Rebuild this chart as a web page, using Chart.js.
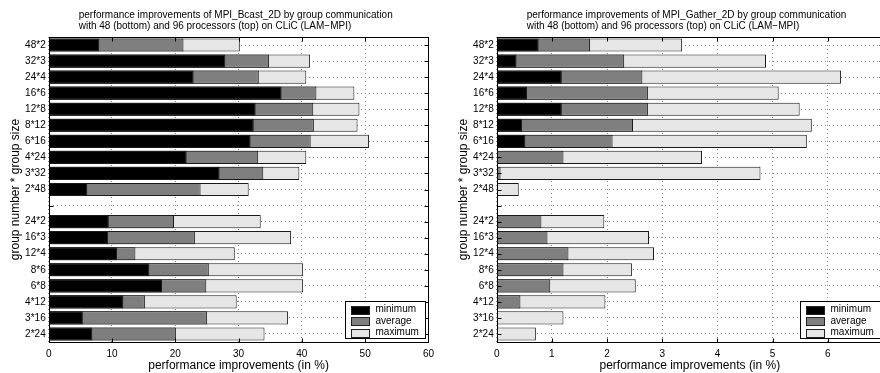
<!DOCTYPE html>
<html>
<head>
<meta charset="utf-8">
<script src="https://cdn.jsdelivr.net/npm/chart.js@4"></script>
<style>
  html, body { margin: 0; padding: 0; background: #fff; overflow: hidden; }
  #wrap { position: relative; width: 880px; height: 373px; overflow: hidden; }
  #bcast { position: absolute; left: 0; top: 0; }
  #gather { position: absolute; left: 440px; top: 0; }
</style>
</head>
<body>
<div id="wrap">
  <canvas id="bcast" width="440" height="373"></canvas>
  <canvas id="gather" width="460" height="373"></canvas>
</div>
<script>
// group number * group size, top block = 96 processors, bottom block = 48
const groupLabels = ['48*2', '32*3', '24*4', '16*6', '12*8', '8*12', '6*16', '4*24', '3*32', '2*48',
                     '',
                     '24*2', '16*3', '12*4', '8*6', '6*8', '4*12', '3*16', '2*24'];

// MPI_Bcast_2D (in %)
const bcastMin = [8.0, 27.9, 22.9, 36.8, 32.7, 32.4, 31.9, 21.8, 27.0, 6.1,
                  null, 9.5, 9.4, 10.8, 15.9, 17.9, 11.8, 5.4, 6.9];
const bcastAvg = [21.3, 34.8, 33.2, 42.3, 41.8, 41.9, 41.4, 33.1, 33.9, 24.0,
                  null, 19.8, 23.1, 13.7, 25.3, 24.9, 15.2, 25.0, 20.1];
const bcastMax = [30.2, 41.3, 40.7, 48.3, 49.1, 48.8, 50.6, 40.7, 39.6, 31.6,
                  null, 33.5, 38.3, 29.4, 40.2, 40.2, 29.7, 37.8, 34.1];

// MPI_Gather_2D (in %)
const gatherMin = [0.76, 0.36, 1.18, 0.55, 1.18, 0.46, 0.52, 0, 0, 0,
                   null, 0, 0, 0, 0, 0, 0, 0, 0];
const gatherAvg = [1.69, 2.31, 2.64, 2.74, 2.74, 2.47, 2.10, 1.21, 0.07, 0,
                   null, 0.81, 0.92, 1.30, 1.21, 0.97, 0.43, 0, 0];
const gatherMax = [3.36, 4.88, 6.24, 5.11, 5.49, 5.71, 5.62, 3.72, 4.78, 0.40,
                   null, 1.95, 2.76, 2.85, 2.45, 2.52, 1.97, 1.21, 0.71];

const titleLine2 = 'with 48 (bottom) and 96 processors (top) on CLiC (LAM\u2212MPI)';

Chart.defaults.font.family = '"Liberation Sans", Arial, Helvetica, sans-serif';
Chart.defaults.font.size = 10;
Chart.defaults.color = '#000';

// frame, inward ticks, left-aligned title and boxed legend (matlab look)
const matlabDecor = {
    id: 'matlabDecor',
    afterDraw(chart, args, opts) {
        const { ctx, chartArea: a, scales: { x, y } } = chart;
        const L = Math.round(a.left) + 0.5, R = Math.round(a.right) + 0.5;
        const T = Math.round(a.top) + 0.5, B = Math.round(a.bottom) + 0.5;
        ctx.save();
        ctx.strokeStyle = '#000';
        ctx.lineWidth = 1;
        ctx.strokeRect(L, T, R - L, B - T);

        ctx.beginPath();
        x.ticks.forEach(t => {
            const px = Math.round(x.getPixelForValue(t.value)) + 0.5;
            ctx.moveTo(px, B); ctx.lineTo(px, B - 4);
            ctx.moveTo(px, T); ctx.lineTo(px, T + 4);
        });
        chart.data.labels.forEach((lb, i) => {
            const py = Math.round(y.getPixelForValue(i)) + 0.5;
            ctx.moveTo(L, py); ctx.lineTo(L + 4, py);
            ctx.moveTo(R, py); ctx.lineTo(R - 4, py);
        });
        ctx.stroke();

        // title
        ctx.font = '10px "Liberation Sans", Arial, sans-serif';
        ctx.fillStyle = '#000';
        ctx.textAlign = 'left';
        ctx.textBaseline = 'middle';
        opts.title.forEach((line, i) => ctx.fillText(line, a.left + 30, 15 + i * 11));

        // legend
        const bw = 80, bh = 37;
        const bx = Math.round(a.right - 3 - bw) + 0.5;
        const by = Math.round(a.bottom - 4 - bh) + 0.5;
        ctx.fillStyle = '#fff';
        ctx.fillRect(bx, by, bw, bh);
        ctx.strokeRect(bx, by, bw, bh);
        chart.data.datasets.forEach((ds, i) => {
            const cy = by + 8 + i * 11.5;
            ctx.fillStyle = ds.backgroundColor;
            ctx.fillRect(bx + 6, Math.round(cy - 4), 18, 8);
            ctx.strokeStyle = '#222';
            ctx.strokeRect(bx + 6, Math.round(cy - 4) + 0.5, 18, 8);
            ctx.fillStyle = '#000';
            ctx.fillText(ds.label, bx + 30, cy);
        });
        ctx.restore();
    }
};

function makeChart(id, mins, avgs, maxs, xMax, yWidth, titleX, padRight, title) {
    const common = { categoryPercentage: 1, barPercentage: 0.82, grouped: false, borderWidth: 1, borderColor: '#1a1a1a' };
    return new Chart(document.getElementById(id), {
        type: 'bar',
        data: {
            labels: groupLabels,
            datasets: [
                { ...common, label: 'minimum', data: mins, backgroundColor: '#000000' },
                { ...common, label: 'average', data: avgs, backgroundColor: '#7f7f7f' },
                { ...common, label: 'maximum', data: maxs, backgroundColor: '#e6e6e6' }
            ]
        },
        options: {
            indexAxis: 'y',
            responsive: false,
            animation: false,
            devicePixelRatio: 1,
            layout: { padding: { top: 37, right: padRight, bottom: 0, left: 0 } },
            plugins: {
                legend: { display: false },
                tooltip: { enabled: false },
                matlabDecor: { title: title }
            },
            scales: {
                x: {
                    min: 0, max: xMax,
                    ticks: { stepSize: xMax > 10 ? 10 : 1, padding: 6, font: { size: 10 } },
                    grid: { color: '#8c8c8c', drawTicks: false },
                    border: { display: false, dash: [1, 3] },
                    title: { display: true, text: 'performance improvements (in %)', font: { size: 12 }, padding: { top: 0, bottom: 0 } },
                    afterFit: s => { s.height = 31; }
                },
                y: {
                    ticks: { autoSkip: false, padding: 3, font: { size: 10 } },
                    grid: { color: '#8c8c8c', drawTicks: false, offset: false },
                    border: { display: false, dash: [1, 3] },
                    title: { display: true, text: 'group number * group size', font: { size: 12 }, padding: { top: titleX, bottom: 0 } },
                    afterFit: s => { s.width = yWidth; }
                }
            }
        },
        plugins: [matlabDecor]
    });
}

makeChart('bcast', bcastMin, bcastAvg, bcastMax, 60, 48.7, 8.8, 8,
    ['performance improvements of MPI_Bcast_2D by group communication', titleLine2]);
makeChart('gather', gatherMin, gatherAvg, gatherMax, 7, 56.7, 16.8, 17,
    ['performance improvements of MPI_Gather_2D by group communication', titleLine2]);
</script>
</body>
</html>
